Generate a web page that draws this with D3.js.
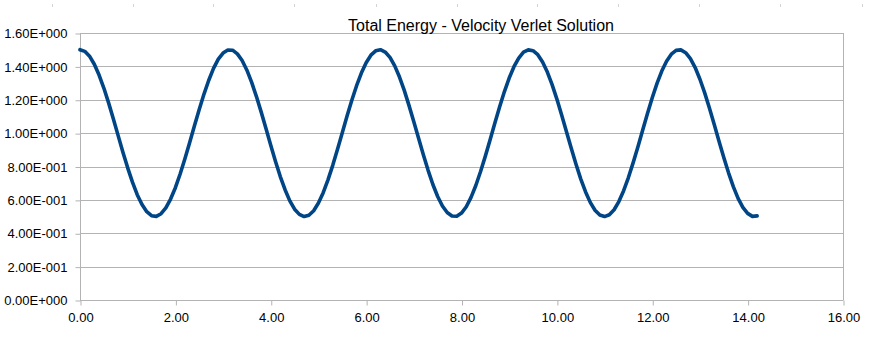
<!DOCTYPE html>
<html>
<head>
<meta charset="utf-8">
<script src="https://cdn.jsdelivr.net/npm/d3@7"></script>
<style>
  html, body { margin: 0; padding: 0; background: #ffffff; }
  svg { display: block; }
</style>
</head>
<body>
<svg id="chart" width="876" height="338"></svg>
<script>
// ---- data ----
const title = "Total Energy - Velocity Verlet Solution";
const timeValues = [
  0.0, 0.1, 0.2, 0.3, 0.4, 0.5, 0.6, 0.7, 0.8, 0.9,
  1.0, 1.1, 1.2, 1.3, 1.4, 1.5, 1.6, 1.7, 1.8, 1.9,
  2.0, 2.1, 2.2, 2.3, 2.4, 2.5, 2.6, 2.7, 2.8, 2.9,
  3.0, 3.1, 3.2, 3.3, 3.4, 3.5, 3.6, 3.7, 3.8, 3.9,
  4.0, 4.1, 4.2, 4.3, 4.4, 4.5, 4.6, 4.7, 4.8, 4.9,
  5.0, 5.1, 5.2, 5.3, 5.4, 5.5, 5.6, 5.7, 5.8, 5.9,
  6.0, 6.1, 6.2, 6.3, 6.4, 6.5, 6.6, 6.7, 6.8, 6.9,
  7.0, 7.1, 7.2, 7.3, 7.4, 7.5, 7.6, 7.7, 7.8, 7.9,
  8.0, 8.1, 8.2, 8.3, 8.4, 8.5, 8.6, 8.7, 8.8, 8.9,
  9.0, 9.1, 9.2, 9.3, 9.4, 9.5, 9.6, 9.7, 9.8, 9.9,
  10.0, 10.1, 10.2, 10.3, 10.4, 10.5, 10.6, 10.7, 10.8, 10.9,
  11.0, 11.1, 11.2, 11.3, 11.4, 11.5, 11.6, 11.7, 11.8, 11.9,
  12.0, 12.1, 12.2, 12.3, 12.4, 12.5, 12.6, 12.7, 12.8, 12.9,
  13.0, 13.1, 13.2, 13.3, 13.4, 13.5, 13.6, 13.7, 13.8, 13.9,
  14.0, 14.1, 14.2
];
const energyValues = [
  1.500, 1.490, 1.461, 1.413, 1.348, 1.270, 1.181, 1.085, 0.985, 0.886,
  0.792, 0.706, 0.631, 0.572, 0.529, 0.505, 0.501, 0.517, 0.552, 0.605,
  0.673, 0.755, 0.846, 0.944, 1.044, 1.142, 1.234, 1.317, 1.388, 1.443,
  1.480, 1.498, 1.497, 1.475, 1.435, 1.377, 1.304, 1.219, 1.126, 1.027,
  0.927, 0.830, 0.740, 0.661, 0.594, 0.544, 0.513, 0.500, 0.508, 0.535,
  0.581, 0.643, 0.720, 0.807, 0.903, 1.002, 1.102, 1.197, 1.284, 1.360,
  1.422, 1.467, 1.493, 1.500, 1.486, 1.454, 1.403, 1.336, 1.256, 1.165,
  1.068, 0.969, 0.870, 0.777, 0.692, 0.620, 0.563, 0.524, 0.503, 0.502,
  0.521, 0.559, 0.615, 0.686, 0.770, 0.862, 0.961, 1.061, 1.158, 1.249,
  1.330, 1.398, 1.450, 1.485, 1.499, 1.494, 1.470, 1.426, 1.366, 1.291,
  1.204, 1.109, 1.010, 0.911, 0.815, 0.726, 0.649, 0.585, 0.538, 0.509,
  0.500, 0.511, 0.541, 0.590, 0.655, 0.734, 0.823, 0.919, 1.019, 1.118,
  1.212, 1.298, 1.372, 1.431, 1.473, 1.496, 1.499, 1.482, 1.446, 1.393,
  1.323, 1.241, 1.149, 1.052, 0.952, 0.854, 0.762, 0.679, 0.609, 0.555,
  0.519, 0.501, 0.504
];
const xTicks = [0, 2, 4, 6, 8, 10, 12, 14, 16];
const yTicks = [0, 0.2, 0.4, 0.6, 0.8, 1.0, 1.2, 1.4, 1.6];
const topMarks = [52, 133, 213, 294, 376, 457, 537, 618, 699, 780, 862];

// ---- layout ----
const svg = d3.select("#chart");
const plot = { left: 80, right: 843, top: 33, bottom: 300 };
const gridColor = "#b3b3b3";
const lineColor = "#004586";
const font = "'Liberation Sans', Arial, sans-serif";

const x = d3.scaleLinear().domain([0, 16]).range([plot.left, plot.right]);
const y = d3.scaleLinear().domain([0, 1.6]).range([plot.bottom, plot.top]);

// faint marks at the very top (sheet artefacts)
svg.append("g").selectAll("line").data(topMarks).join("line")
  .attr("x1", d => d + 0.5).attr("x2", d => d + 0.5)
  .attr("y1", 4).attr("y2", 7)
  .attr("stroke", "#d4d4d4").attr("stroke-width", 1);

// horizontal grid lines
svg.append("g").selectAll("line").data(yTicks).join("line")
  .attr("x1", plot.left).attr("x2", plot.right)
  .attr("y1", d => Math.round(y(d)) + 0.5).attr("y2", d => Math.round(y(d)) + 0.5)
  .attr("stroke", gridColor).attr("stroke-width", 1);

// right border of plot area
svg.append("line")
  .attr("x1", plot.right + 0.5).attr("x2", plot.right + 0.5)
  .attr("y1", plot.top).attr("y2", plot.bottom)
  .attr("stroke", gridColor);

// y axis
const yAxis = d3.axisLeft(y).tickValues(yTicks).tickSize(5).tickPadding(8)
  .tickFormat(d => {
    const s = d.toExponential(2);
    const [m, e] = s.split("e");
    const sign = e[0] === "-" ? "-" : "+";
    const ex = String(Math.abs(+e)).padStart(3, "0");
    return m + "E" + sign + ex;
  });
const gy = svg.append("g").attr("transform", `translate(${plot.left + 0.5},0.5)`).call(yAxis);
gy.select(".domain").attr("stroke", gridColor).attr("d", `M0,${plot.top - 0.5}V${plot.bottom}`);
gy.selectAll(".tick line").attr("stroke", gridColor);
gy.selectAll(".tick text").attr("font-family", font).attr("font-size", 13).attr("fill", "#000");

// x axis
const xAxis = d3.axisBottom(x).tickValues(xTicks).tickSize(5).tickPadding(7)
  .tickFormat(d3.format(".2f"));
const gx = svg.append("g").attr("transform", `translate(0.5,${plot.bottom + 0.5})`).call(xAxis);
gx.select(".domain").attr("stroke", gridColor).attr("d", `M${plot.left},0H${plot.right}`);
gx.selectAll(".tick line").attr("stroke", gridColor);
gx.selectAll(".tick text").attr("font-family", font).attr("font-size", 13).attr("fill", "#000");

// data line
const data = timeValues.map((t, i) => ({ t, e: energyValues[i] }));
const line = d3.line().x(d => x(d.t)).y(d => y(d.e));
svg.append("path").datum(data)
  .attr("d", line)
  .attr("fill", "none")
  .attr("stroke", lineColor)
  .attr("stroke-width", 3.6)
  .attr("stroke-linejoin", "round")
  .attr("stroke-linecap", "round");

// title
svg.append("text")
  .attr("x", 481).attr("y", 31)
  .attr("text-anchor", "middle")
  .attr("font-family", font).attr("font-size", 16).attr("fill", "#000")
  .text(title);
</script>
</body>
</html>
